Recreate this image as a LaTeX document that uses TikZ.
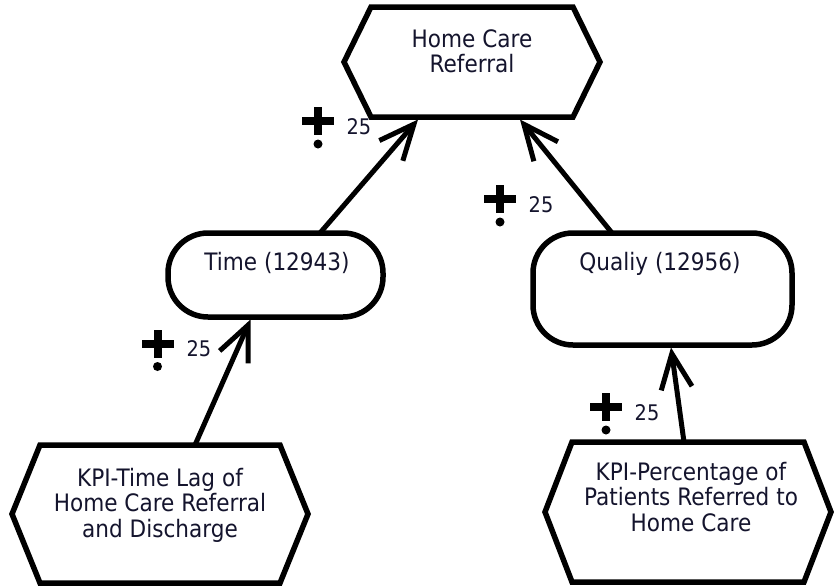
\documentclass[tikz,border=0pt]{standalone}
\usepackage{fontspec}
\setmainfont[FakeStretch=0.9]{DejaVu Sans}
\usetikzlibrary{arrows.meta,calc}
\definecolor{txtcol}{RGB}{20,20,45}
\newcommand\hexout[2]{%
  \draw[outline] (#1.west) -- ($(#1.north west)+(#2,0)$) -- ($(#1.north east)+(-#2,0)$)
    -- (#1.east) -- ($(#1.south east)+(-#2,0)$) -- ($(#1.south west)+(#2,0)$) -- cycle;}
\begin{document}
\begin{tikzpicture}[x=1pt,y=-1pt,
  frame/.style={draw=none,inner sep=0,outer sep=0},
  outline/.style={line width=5.5pt,line join=miter,draw=black},
  rbox/.style={draw=black,line width=5.5pt,rounded corners=40pt,inner sep=0,outer sep=0},
  txt/.style={font=\fontsize{24}{25.5}\selectfont,align=center,text=txtcol,inner sep=0,anchor=north},
  num/.style={font=\fontsize{21.5}{24}\selectfont,text=txtcol,inner sep=0},
  arr/.style={line width=5pt,-{Straight Barb[length=35pt,width=31pt]}},
  plusmark/.pic={
    \fill[black] (-16,-4) rectangle (16,4);
    \fill[black] (-4,-14) rectangle (4,14);
    \fill[black] (0,23) circle (4.5);
  }]
\useasboundingbox (0,0) rectangle (835,587);
\fill[white] (0,0) rectangle (835,587);

% shapes
\node[frame,minimum width=256pt,minimum height=110pt] (home) at (472,62) {};
\hexout{home}{27}
\node[txt] (hometxt) at (472,29) {Home Care\\Referral};

\node[rbox,minimum width=215pt,minimum height=84pt] (time) at (275.5,275) {};
\node[txt] (timetxt) at (277,252) {Time (12943)};

\node[rbox,minimum width=259pt,minimum height=112pt] (qual) at (662.5,289) {};
\node[txt] (qualtxt) at (660,252) {Qualiy (12956)};

\node[frame,minimum width=296pt,minimum height=138pt] (kpione) at (160,514) {};
\hexout{kpione}{28}
\node[txt] (kpionetxt) at (160,468) {KPI-Time Lag of\\Home Care Referral\\and Discharge};

\node[frame,minimum width=286pt,minimum height=140pt] (kpitwo) at (688,512) {};
\hexout{kpitwo}{27}
\node[txt] (kpitwotxt) at (691,462) {KPI-Percentage of\\Patients Referred to\\Home Care};

% connectors
\draw[arr] ($(time.north)+(44.5,0)$) -- ($(home.south)+(-54,2.5)$);
\draw[arr] ($(qual.north)+(-50.5,0)$) -- ($(home.south)+(48,2.5)$);
\draw[arr] ($(kpione.north)+(35,0)$) -- ($(time.south)+(-25,2.5)$);
\draw[arr] ($(kpitwo.north)+(-4,0)$) -- ($(qual.south)+(8.5,2.5)$);

% labels
\pic at (318,121) {plusmark};
\node[num] (lone) at (359,127) {25};
\pic at (500,199) {plusmark};
\node[num] (ltwo) at (541,205) {25};
\pic at (157.5,343.5) {plusmark};
\node[num] (lthree) at (199,349) {25};
\pic at (606,407) {plusmark};
\node[num] (lfour) at (647,413) {25};
\end{tikzpicture}
\end{document}
